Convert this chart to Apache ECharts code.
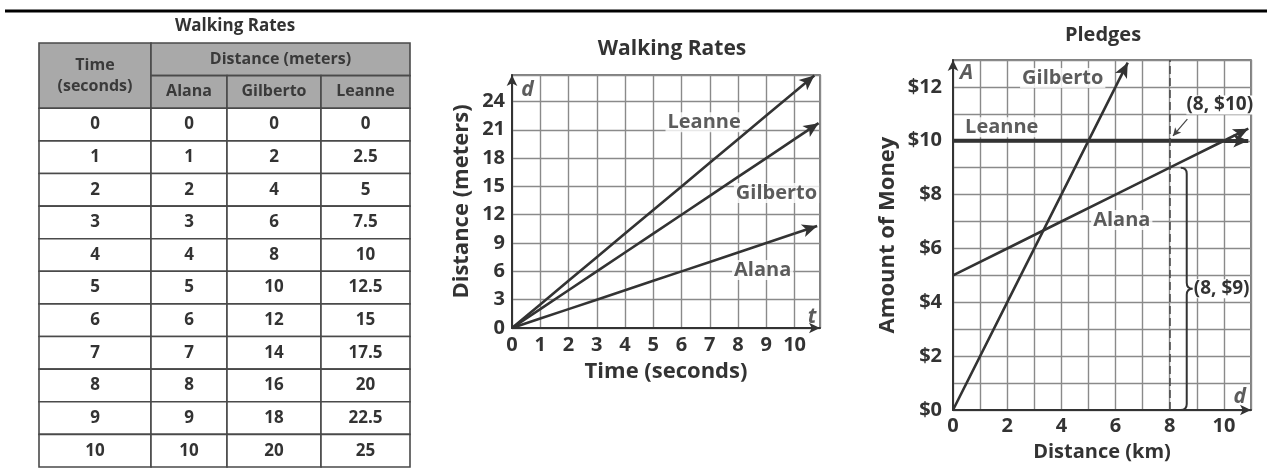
<!DOCTYPE html>
<html><head><meta charset="utf-8">
<script src="https://cdn.jsdelivr.net/npm/echarts@6/dist/echarts.min.js"></script>
<style>html,body{margin:0;padding:0;background:#fff}#c{width:1267px;height:468px}</style>
</head><body><div id="c"></div>
<script>
// ---------------- DATA ----------------
const tableTitle = 'Walking Rates';
const tableHeader = ['Time\n(seconds)', 'Distance (meters)', 'Alana', 'Gilberto', 'Leanne'];
const times = [0, 1, 2, 3, 4, 5, 6, 7, 8, 9, 10];
const alanaDist = [0, 1, 2, 3, 4, 5, 6, 7, 8, 9, 10];
const gilbertoDist = [0, 2, 4, 6, 8, 10, 12, 14, 16, 18, 20];
const leanneDist = [0, 2.5, 5, 7.5, 10, 12.5, 15, 17.5, 20, 22.5, 25];
// arrow tips
const alanaWalkEnd = [10.8, 10.8];
const gilbertoWalkEnd = [10.85, 21.7];
const leanneWalkEnd = [10.7, 26.75];

const pledgeKm = [0, 2, 4, 6, 8, 10];
const alanaPledge = [5, 6, 7, 8, 9, 10];
const leannePledge = [10, 10, 10, 10, 10, 10];
const gilbertoKm = [0, 2, 4, 6];
const gilbertoPledge = [0, 4, 8, 12];
const alanaPledgeEnd = [10.9, 10.45];
const leannePledgeEnd = [10.9, 10];
const gilbertoPledgeEnd = [6.45, 12.9];
const markedKm = 8;
const braceSpan = [0, 9];
const annoTexts = ['(8, $10)', '(8, $9)'];

// ---------------- LAYOUT ----------------
const FONT = '"Open Sans", "Noto Sans", sans-serif';
const TXT = '#333';
const colEdges = [0, 112, 188, 282, 371];
const walkLabelPos = [[6.8, 21.8, 'Leanne'], [9.36, 14.3, 'Gilberto'], [8.87, 6.15, 'Alana']];
const walkLetterPos = [[0.55, 25.2, 'd'], [10.62, 1.2, 't']];
const pledgeLabelPos = [[4.05, 12.33, 'Gilberto'], [1.8, 10.5, 'Leanne'], [6.23, 7.06, 'Alana']];
const pledgeLetterPos = [[0.5, 12.5, 'A'], [10.58, 0.5, 'd']];

// ---------------- TABLE CELLS ----------------
const cells = [];
cells.push({c0: 0, c1: 1, r0: 0, r1: 2, text: tableHeader[0], head: true});
cells.push({c0: 1, c1: 4, r0: 0, r1: 1, text: tableHeader[1], head: true});
for (let k = 2; k <= 4; k++) cells.push({c0: k - 1, c1: k, r0: 1, r1: 2, text: tableHeader[k], head: true});
times.forEach((t, i) => {
  [t, alanaDist[i], gilbertoDist[i], leanneDist[i]].forEach((v, c) => {
    cells.push({c0: c, c1: c + 1, r0: 2 + i, r1: 3 + i, text: String(v), head: false});
  });
});

const chart = echarts.init(document.getElementById('c'));

function axisLine(arrow) {
  return {show: true, onZero: false, lineStyle: {color: '#333', width: 2},
    symbol: arrow ? ['none', 'arrow'] : 'none', symbolSize: [8, 11]};
}
const split = {show: true, lineStyle: {color: '#8a8a8a', width: 1.4}};
const tickFont = {fontSize: 20, fontWeight: 'bold', color: TXT, fontFamily: FONT};
const nameFont = {fontSize: 22, fontWeight: 'bold', color: TXT, fontFamily: FONT};

function arrowLine(from, to, width) {
  return {
    symbol: ['none', 'arrow'], symbolSize: [10, 15], silent: true, animation: false,
    label: {show: false}, emphasis: {disabled: true},
    lineStyle: {type: 'solid', color: '#333', width: width},
    data: [[{coord: from}, {coord: to}]]
  };
}
function lineSeries(name, xs, ys, end, xi, width) {
  return {
    type: 'line', name: name, xAxisIndex: xi, yAxisIndex: xi,
    data: xs.map((x, i) => [x, ys[i]]), showSymbol: false, symbol: 'none',
    lineStyle: {color: '#333', width: width}, silent: true, z: 3,
    markLine: arrowLine([xs[xs.length - 1], ys[ys.length - 1]], end, width)
  };
}
function labelSeries(pts, xi, italic, bg) {
  return {
    type: 'scatter', xAxisIndex: xi, yAxisIndex: xi, symbolSize: 0, silent: true, z: 5,
    data: pts,
    label: {show: true, position: 'inside', formatter: p => p.data[2],
      fontSize: italic ? 21 : 20, fontWeight: 'bold', fontStyle: italic ? 'italic' : 'normal',
      fontFamily: FONT, color: TXT,
      backgroundColor: bg ? '#fff' : 'transparent', padding: bg ? [0, 2] : 0}
  };
}

const option = {
  animation: false,
  backgroundColor: '#fff',
  graphic: [{type: 'line', shape: {x1: 5, y1: 11, x2: 1267, y2: 11}, style: {stroke: '#000', lineWidth: 3}}],
  title: [
    {text: tableTitle, left: 230, top: 13, textAlign: 'center', textStyle: {fontSize: 17, fontWeight: 'bold', color: TXT, fontFamily: FONT}},
    {text: 'Walking Rates', left: 667, top: 34, textAlign: 'center', textStyle: {fontSize: 21, fontWeight: 'bold', color: TXT, fontFamily: FONT}},
    {text: 'Pledges', left: 1098, top: 20, textAlign: 'center', textStyle: {fontSize: 20, fontWeight: 'bold', color: TXT, fontFamily: FONT}}
  ],
  grid: [
    {left: 39, top: 43, width: 371, height: 424},
    {left: 512, top: 75, width: 308, height: 253, show: true, borderColor: '#555', borderWidth: 1.5},
    {left: 953, top: 60, width: 298, height: 350, show: true, borderColor: '#555', borderWidth: 1.5}
  ],
  xAxis: [
    {gridIndex: 0, type: 'value', min: 0, max: 371, show: false},
    {gridIndex: 1, type: 'value', min: 0, max: 10.9, interval: 1,
      axisLine: axisLine(true), axisTick: {show: false}, splitLine: split,
      axisLabel: Object.assign({margin: 7, formatter: v => Number.isInteger(v) ? String(v) : ''}, tickFont),
      name: 'Time (seconds)', nameLocation: 'middle', nameGap: 33, nameTextStyle: nameFont},
    {gridIndex: 2, type: 'value', min: 0, max: 11, interval: 1,
      axisLine: axisLine(true), axisTick: {show: false}, splitLine: split,
      axisLabel: Object.assign({margin: 6, formatter: v => (Number.isInteger(v) && v % 2 === 0) ? String(v) : ''}, tickFont),
      name: 'Distance (km)', nameLocation: 'middle', nameGap: 32, nameTextStyle: Object.assign({}, nameFont, {fontSize: 20})}
  ],
  yAxis: [
    {gridIndex: 0, type: 'value', min: 0, max: 13, inverse: true, show: false},
    {gridIndex: 1, type: 'value', min: 0, max: 26.8, interval: 3,
      axisLine: axisLine(true), axisTick: {show: false}, splitLine: split,
      axisLabel: Object.assign({margin: 7, formatter: v => Number.isInteger(v) ? String(v) : ''}, tickFont),
      name: 'Distance (meters)', nameLocation: 'middle', nameGap: 39, nameTextStyle: nameFont},
    {gridIndex: 2, type: 'value', min: 0, max: 13, interval: 1,
      axisLine: axisLine(true), axisTick: {show: false}, splitLine: split,
      axisLabel: Object.assign({margin: 11, formatter: v => (Number.isInteger(v) && v % 2 === 0) ? '$' + v : ''}, tickFont),
      name: 'Amount of Money', nameLocation: 'middle', nameGap: 54, nameTextStyle: nameFont}
  ],
  series: [
    {
      type: 'custom', xAxisIndex: 0, yAxisIndex: 0, silent: true,
      data: cells.map(c => [colEdges[c.c0], c.r0, colEdges[c.c1], c.r1]),
      renderItem: (params, api) => {
        const cell = cells[params.dataIndex];
        const a = api.coord([api.value(0), api.value(1)]);
        const b = api.coord([api.value(2), api.value(3)]);
        return {type: 'group', children: [
          {type: 'rect', shape: {x: a[0], y: a[1], width: b[0] - a[0], height: b[1] - a[1]},
            style: {fill: cell.head ? '#a9a9a9' : '#fff', stroke: '#4a4a4a', lineWidth: 1.6}},
          {type: 'text', style: {text: cell.text, x: (a[0] + b[0]) / 2, y: (a[1] + b[1]) / 2,
            textAlign: 'center', textVerticalAlign: 'middle', align: 'center', verticalAlign: 'middle',
            font: 'bold ' + (cell.head ? 16 : 17) + 'px ' + FONT, fill: cell.head ? '#3a3a3a' : TXT, lineHeight: 21}}
        ]};
      }
    },
    // walking chart
    lineSeries('Leanne', times, leanneDist, leanneWalkEnd, 1, 2.6),
    lineSeries('Gilberto', times, gilbertoDist, gilbertoWalkEnd, 1, 2.6),
    lineSeries('Alana', times, alanaDist, alanaWalkEnd, 1, 2.6),
    labelSeries(walkLabelPos, 1, false, true),
    labelSeries(walkLetterPos, 1, true, false),
    // pledges chart
    lineSeries('Leanne', pledgeKm, leannePledge, leannePledgeEnd, 2, 4),
    lineSeries('Gilberto', gilbertoKm, gilbertoPledge, gilbertoPledgeEnd, 2, 2.6),
    lineSeries('Alana', pledgeKm, alanaPledge, alanaPledgeEnd, 2, 2.6),
    labelSeries(pledgeLabelPos, 2, false, true),
    labelSeries(pledgeLetterPos, 2, true, false),
    {
      type: 'line', xAxisIndex: 2, yAxisIndex: 2, data: [], silent: true,
      markLine: {symbol: 'none', silent: true, label: {show: false}, animation: false,
        lineStyle: {type: [8, 4], color: '#444', width: 1.5},
        data: [{xAxis: markedKm}]}
    },
    {
      type: 'line', xAxisIndex: 2, yAxisIndex: 2, data: [], silent: true,
      markLine: {symbol: ['none', 'arrow'], symbolSize: [6, 8], silent: true, label: {show: false}, animation: false,
        lineStyle: {type: 'solid', color: '#444', width: 1.2},
        data: [[{coord: [8.65, 10.8]}, {coord: [8.12, 10.18]}]]}
    },
    {
      type: 'custom', xAxisIndex: 2, yAxisIndex: 2, silent: true, z: 4,
      data: [[markedKm, braceSpan[0], braceSpan[1]]],
      renderItem: (params, api) => {
        const x = api.value(0);
        const top = api.coord([x, api.value(2)]);
        const bot = api.coord([x, api.value(1)]);
        const xc = top[0] + 17, w = 6, ym = (top[1] + bot[1]) / 2;
        const yt = top[1], yb = bot[1];
        const d = `M${xc - w} ${yt} Q${xc} ${yt} ${xc} ${yt + w} L${xc} ${ym - w} Q${xc} ${ym} ${xc + w} ${ym} ` +
                  `Q${xc} ${ym} ${xc} ${ym + w} L${xc} ${yb - w} Q${xc} ${yb} ${xc - w} ${yb}`;
        return {type: 'group', children: [
          {type: 'path', shape: {pathData: d}, style: {fill: 'none', stroke: '#333', lineWidth: 2}},
          {type: 'text', style: {text: annoTexts[1], x: xc + w + 1, y: ym, textAlign: 'left', align: 'left',
            textVerticalAlign: 'middle', verticalAlign: 'middle', font: 'bold 19px ' + FONT, fill: TXT, backgroundColor: '#fff'}},
          {type: 'text', style: {text: annoTexts[0], x: top[0] + 50, y: api.coord([x, 11.33])[1],
            textAlign: 'center', align: 'center', textVerticalAlign: 'middle', verticalAlign: 'middle',
            font: 'bold 19px ' + FONT, fill: TXT, backgroundColor: '#fff'}}
        ]};
      }
    }
  ]
};
chart.setOption(option);
</script>
</body></html>
